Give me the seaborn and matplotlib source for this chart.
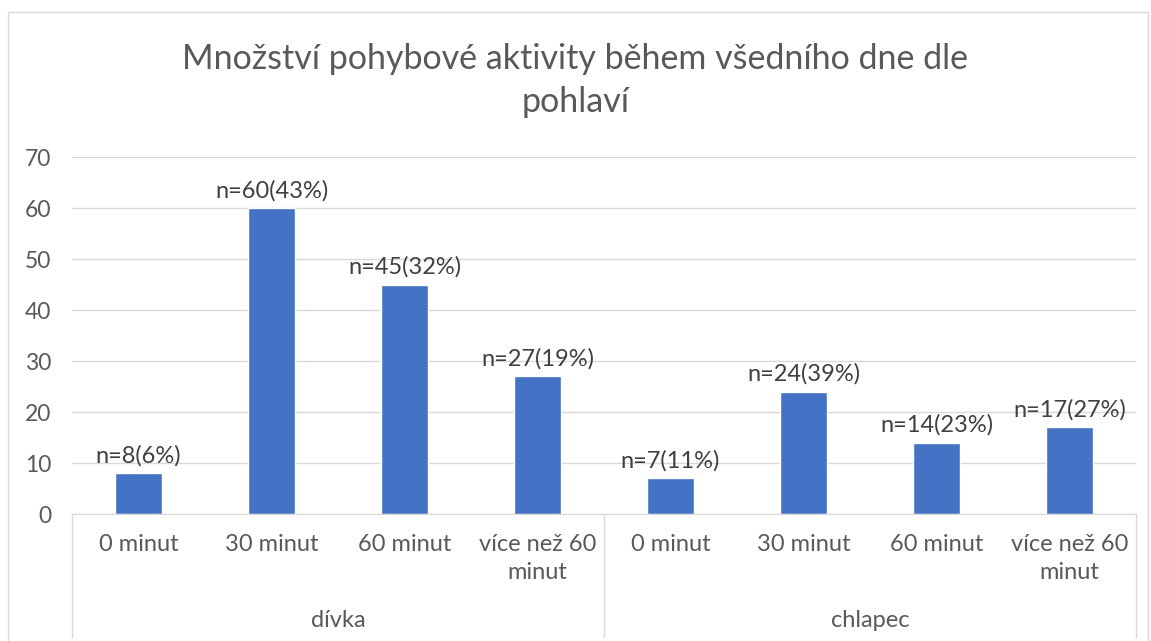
import pandas as pd
import matplotlib.pyplot as plt
import seaborn as sns

# Data
groups = ["dívka", "chlapec"]
minutes = ["0 minut", "30 minut", "60 minut", "více než 60\nminut"]
divka_counts = [8, 60, 45, 27]
chlapec_counts = [7, 24, 14, 17]
divka_labels = ["n=8(6%)", "n=60(43%)", "n=45(32%)", "n=27(19%)"]
chlapec_labels = ["n=7(11%)", "n=24(39%)", "n=14(23%)", "n=17(27%)"]

data = pd.DataFrame({
    "key": [f"{g}|{m}" for g in groups for m in minutes],
    "group": [g for g in groups for m in minutes],
    "minut": minutes * 2,
    "count": divka_counts + chlapec_counts,
    "label": divka_labels + chlapec_labels,
})

sns.set_style("white")
plt.rcParams["font.family"] = ["Lato", "DejaVu Sans"]

fig = plt.figure(figsize=(11.51, 6.41), dpi=100)
ax = fig.add_axes([0.0626, 0.198, 0.9244, 0.557])

sns.barplot(data=data, x="key", y="count", color="#4472C4", width=0.36,
            saturation=1, ax=ax)

ax.set_ylim(0, 70)
ax.set_yticks(range(0, 71, 10))
ax.yaxis.grid(True, color="#D9D9D9", linewidth=1)
ax.set_axisbelow(True)
ax.tick_params(axis="y", length=0, labelsize=16.5, labelcolor="#595959", pad=15)
for s in ["top", "right", "left"]:
    ax.spines[s].set_visible(False)
ax.spines["bottom"].set_color("#D9D9D9")
ax.set_xlabel("")
ax.set_ylabel("")
ax.set_xlim(-0.5, len(data) - 0.5)

# bar labels
for bar, txt in zip(ax.patches, data["label"]):
    ax.annotate(txt, (bar.get_x() + bar.get_width() / 2, bar.get_height()),
                xytext=(0, 5), textcoords="offset points", ha="center",
                va="bottom", fontsize=17, color="#404040")

# multi-level category axis
ax.set_xticks(range(len(data)))
ax.set_xticklabels(data["minut"], fontsize=17, color="#595959", linespacing=1.45)
ax.tick_params(axis="x", length=0, pad=14)
for t in ax.get_xticklabels():
    t.set_verticalalignment("top")

trans = ax.get_xaxis_transform()
n = len(minutes)
for i in range(len(groups) + 1):
    ax.plot([i * n - 0.5, i * n - 0.5], [0, -0.345], transform=trans,
            color="#D9D9D9", linewidth=1, clip_on=False)
for i, g in enumerate(groups):
    ax.text(i * n + (n - 1) / 2, -0.297, g, transform=trans, ha="center",
            va="center", fontsize=17, color="#595959")

fig.suptitle("Množství pohybové aktivity během všedního dne dle\npohlaví",
             y=0.933, fontsize=24.5, color="#595959", linespacing=1.42)

# chart frame
fig.add_artist(plt.Rectangle((0.007, -0.05), 0.99, 1.031, fill=False,
                             edgecolor="#D9D9D9", linewidth=1,
                             transform=fig.transFigure))

plt.savefig("out.png", dpi=100)
